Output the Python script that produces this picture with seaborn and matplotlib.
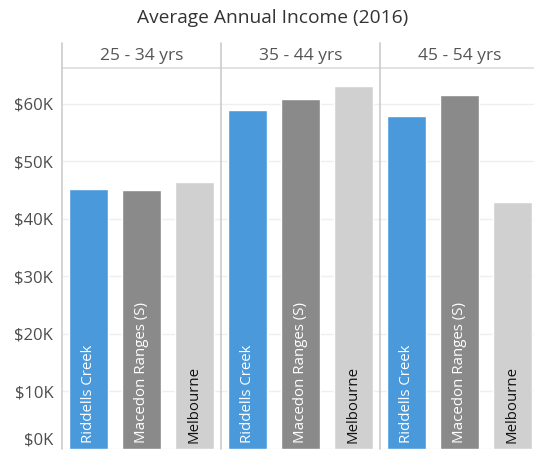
import matplotlib
matplotlib.use("Agg")
import matplotlib.pyplot as plt
import seaborn as sns
import pandas as pd

# ---- data ----
age_groups = ["25 - 34 yrs", "35 - 44 yrs", "45 - 54 yrs"]
regions = ["Riddells Creek", "Macedon Ranges (S)", "Melbourne"]
riddells_creek = [45200, 59000, 57900]
macedon_ranges = [45100, 60800, 61600]
melbourne = [46500, 63100, 43000]
y_ticks = [0, 10000, 20000, 30000, 40000, 50000, 60000]
y_tick_labels = ["$0K", "$10K", "$20K", "$30K", "$40K", "$50K", "$60K"]
title = "Average Annual Income (2016)"

colors = ["#4A9ADB", "#8A8A8A", "#D0D0D0"]
label_colors = ["white", "white", "#111111"]

rows = []
for reg, vals in zip(regions, [riddells_creek, macedon_ranges, melbourne]):
    for ag, v in zip(age_groups, vals):
        rows.append({"age": ag, "region": reg, "income": v})
df = pd.DataFrame(rows)

sns.set_theme(style="white")
plt.rcParams["font.family"] = ["Open Sans", "DejaVu Sans"]

W, H = 534, 450
fig = plt.figure(figsize=(W / 100, H / 100), dpi=100)
left, right, bottom, top = 61.7, 539.0, 449.0, 67.7
ax = fig.add_axes([left / W, 1 - bottom / H, (right - left) / W, (bottom - top) / H])

sns.barplot(data=df, x="age", y="income", hue="region", order=age_groups,
            hue_order=regions, palette=colors, width=1.0, gap=0.26,
            saturation=1, ax=ax, legend=False, errorbar=None)

ax.set_xlim(-0.5, 2.5)
ax.set_ylim(0, 66300)
ax.set_yticks(y_ticks)
ax.set_yticklabels(y_tick_labels)
ax.tick_params(axis="y", length=0, pad=6, labelsize=12, labelcolor="#4D4D4D")
ax.set_xticks([])
ax.set_xlabel("")
ax.set_ylabel("")
ax.yaxis.grid(True, color="#EFEFEF", linewidth=1)
ax.set_axisbelow(True)
for s in ["left", "right", "bottom"]:
    ax.spines[s].set_visible(False)
ax.spines["top"].set_color("#DDDDDD")
ax.spines["top"].set_linewidth(1.2)

# $0K label lifted like the reference
ax.get_yticklabels()[0].set_va("bottom")

# panel separators and headers
xt = ax.get_xaxis_transform()
head_frac = (top - 42.7) / (bottom - top)
for b in [-0.5, 0.5, 1.5, 2.5]:
    ax.plot([b, b], [0, 1 + head_frac], transform=xt, color="#CCCCCC",
            linewidth=1.2, clip_on=False, zorder=5)
for i, ag in enumerate(age_groups):
    ax.text(i, 1 + head_frac * 0.47, ag, transform=xt, ha="center", va="center",
            fontsize=12.5, color="#555555")

# labels inside bars
for cont, reg, lc in zip(ax.containers, regions, label_colors):
    for bar in cont:
        xc = bar.get_x() + bar.get_width() / 2
        ax.annotate(reg, (xc, 0), xytext=(0, 4), textcoords="offset points",
                    rotation=90, ha="center", va="bottom", fontsize=10.8,
                    color=lc)

fig.text(273 / W, 1 - 18 / H, title, ha="center", va="center", fontsize=13.8,
         color="#333333")

fig.savefig("out.png", dpi=100)
